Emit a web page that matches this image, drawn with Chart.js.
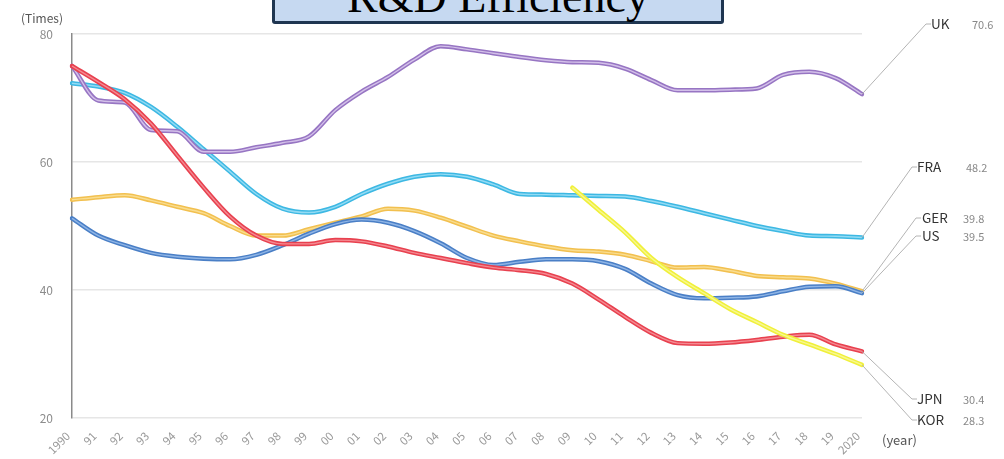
<!DOCTYPE html>
<html>
<head>
<meta charset="utf-8">
<script src="https://cdn.jsdelivr.net/npm/chart.js@4.4.1/dist/chart.umd.min.js"></script>
<style>
  html, body { margin:0; padding:0; background:#fff; overflow:hidden; }
  #wrap { position:relative; width:1004px; height:459px; overflow:hidden; background:#fff; }
  #c { position:absolute; left:0; top:0; }
  .title { position:absolute; left:272px; top:-36px; width:446px; height:54px;
           border:3px solid #1f3651; border-radius:3px; background:#c6d9f1; }
  .title span { position:absolute; left:0; top:7px; width:100%; text-align:center;
           font-family:"Liberation Serif","DejaVu Serif",serif; font-size:46px; line-height:46px; color:#000; white-space:nowrap; }
  .lab { position:absolute; transform:translateY(-50%); white-space:nowrap; line-height:1; }
  .nm { font-family:"Noto Sans CJK JP","Noto Sans",sans-serif; font-size:13.5px; color:#333; }
  .vl { font-family:"Noto Sans CJK JP","Noto Sans",sans-serif; font-size:11px; color:#888; }
  .ax { font-family:"Noto Sans CJK JP","Noto Sans",sans-serif; font-size:12px; color:#555; }
</style>
</head>
<body>
<div id="wrap">
  <canvas id="c" width="1004" height="459"></canvas>
  <div class="title"><span>R&amp;D Efficiency</span></div>
  <div class="lab ax" style="left:21px;top:18px;">(Times)</div>
  <div class="lab ax" style="left:882px;top:439px;font-size:13px;">(year)</div>
  <div id="labels"></div>
</div>
<script>
// ---- data ----
const years = [1990,1991,1992,1993,1994,1995,1996,1997,1998,1999,2000,2001,2002,2003,2004,2005,2006,2007,2008,2009,2010,2011,2012,2013,2014,2015,2016,2017,2018,2019,2020];
const tickLabels = ['1990','91','92','93','94','95','96','97','98','99','00','01','02','03','04','05','06','07','08','09','10','11','12','13','14','15','16','17','18','19','2020'];
const seriesNames = ['KOR','JPN','UK','US','GER','FRA'];
const UK  = [75.0,69.6,69.3,65.0,64.8,61.6,61.6,62.3,63.0,64.0,68.1,71.0,73.3,76.0,78.1,77.6,77.0,76.4,75.9,75.6,75.5,74.6,72.8,71.2,71.2,71.3,71.5,73.6,74.1,73.1,70.6];
const FRA = [72.3,71.8,70.8,68.6,65.5,62.0,58.5,55.0,52.7,52.1,53.0,55.0,56.6,57.7,58.1,57.7,56.5,55.0,54.9,54.8,54.7,54.6,53.9,53.0,52.0,51.0,50.0,49.2,48.5,48.4,48.2];
const GER = [54.1,54.5,54.8,54.0,53.0,52.0,50.0,48.5,48.5,49.5,50.5,51.5,52.7,52.4,51.3,49.9,48.5,47.6,46.8,46.2,46.0,45.5,44.5,43.5,43.6,43.0,42.2,42.0,41.8,41.0,39.8];
const US  = [51.2,48.5,47.0,45.8,45.2,44.9,44.8,45.5,47.0,48.8,50.3,51.0,50.5,49.2,47.3,45.0,43.9,44.4,44.8,44.8,44.5,43.3,41.0,39.2,38.7,38.8,39.0,39.8,40.5,40.6,39.5];
const JPN = [75.0,72.5,69.8,66.0,61.0,56.0,51.5,48.5,47.2,47.2,47.8,47.6,46.8,45.8,45.0,44.2,43.5,43.1,42.5,41.0,38.5,35.8,33.3,31.7,31.6,31.8,32.2,32.7,33.0,31.5,30.4];
const KOR = [null,null,null,null,null,null,null,null,null,null,null,null,null,null,null,null,null,null,null,56.0,52.5,49.0,45.0,42.0,39.5,37.0,35.0,33.0,31.5,30.0,28.3];
const endValues = {UK:'70.6', FRA:'48.2', GER:'39.8', US:'39.5', JPN:'30.4', KOR:'28.3'};
const yTicks = [20,40,60,80];

// ---- styles ----
const styles = {
  KOR:{c:'#f0f03a', i:'#f8f890'},
  JPN:{c:'#e8414f', i:'#f48a92'},
  UK: {c:'#9775c3', i:'#d3c0e9'},
  US: {c:'#4a7fc6', i:'#8fb5e6'},
  GER:{c:'#f2c04f', i:'#f9dd90'},
  FRA:{c:'#3db8e3', i:'#93dbf4'}
};
// label anchor positions (pixels) for the right-side callouts
const anchors = {
  UK: {x:926, y:24,  nx:931, vx:972},
  FRA:{x:912, y:167, nx:917, vx:966},
  GER:{x:916, y:218, nx:922, vx:963},
  US: {x:916, y:236, nx:922, vx:963},
  JPN:{x:912, y:399, nx:917, vx:963},
  KOR:{x:912, y:420, nx:917, vx:963}
};
const dataMap = {UK, FRA, GER, US, JPN, KOR};

const datasets = seriesNames.map(n => ({
  label:n, data:dataMap[n], borderColor:styles[n].c, backgroundColor:styles[n].c,
  innerColor:styles[n].i, borderWidth:4.5, pointRadius:0, fill:false,
  cubicInterpolationMode:'monotone', borderCapStyle:'round', borderJoinStyle:'round'
}));

const innerLine = {
  id:'innerLine',
  afterDatasetDraw(chart, args){
    const ds = chart.data.datasets[args.index];
    const el = args.meta.dataset;
    if(!ds.innerColor || !el || !el.path) return;
    const ctx = chart.ctx;
    ctx.save();
    ctx.beginPath();
    el.path(ctx);
    ctx.strokeStyle = ds.innerColor;
    ctx.lineWidth = 1.4;
    ctx.lineJoin = 'round';
    ctx.stroke();
    ctx.restore();
  }
};

const leaders = {
  id:'leaders',
  afterDatasetsDraw(chart){
    const ctx = chart.ctx, xs = chart.scales.x, ys = chart.scales.y;
    ctx.save();
    ctx.strokeStyle = '#b4b4b4';
    ctx.lineWidth = 1;
    seriesNames.forEach(n => {
      const d = dataMap[n];
      const last = d.length - 1;
      const px = xs.getPixelForValue(last);
      const py = ys.getPixelForValue(d[last]);
      const a = anchors[n];
      ctx.beginPath();
      ctx.moveTo(px, py);
      ctx.lineTo(a.x, a.y);
      ctx.lineTo(a.x + 5, a.y);
      ctx.stroke();
    });
    ctx.restore();
  }
};

// right-side text labels
const labelsDiv = document.getElementById('labels');
seriesNames.forEach(n => {
  const a = anchors[n];
  const s1 = document.createElement('div');
  s1.className = 'lab nm'; s1.style.left = a.nx + 'px'; s1.style.top = a.y + 'px'; s1.textContent = n;
  const s2 = document.createElement('div');
  s2.className = 'lab vl'; s2.style.left = a.vx + 'px'; s2.style.top = a.y + 'px'; s2.textContent = endValues[n];
  labelsDiv.appendChild(s1); labelsDiv.appendChild(s2);
});

Chart.defaults.font.family = "'Noto Sans CJK JP','Noto Sans',sans-serif";

new Chart(document.getElementById('c'), {
  type:'line',
  data:{ labels:tickLabels, datasets },
  options:{
    responsive:false, animation:false, devicePixelRatio:1,
    layout:{ padding:{ top:34, right:142, bottom:0, left:0 } },
    plugins:{ legend:{display:false}, tooltip:{enabled:false} },
    scales:{
      x:{
        type:'category', offset:false,
        grid:{display:false}, border:{display:false},
        ticks:{ autoSkip:false, maxRotation:45, minRotation:45, color:'#9a9a9a', font:{size:11.5}, padding:3, labelOffset:-4 },
        afterFit(s){ s.height = 41; s.paddingLeft = 0; s.paddingRight = 0; }
      },
      y:{
        min:20, max:80,
        afterBuildTicks(s){ s.ticks = yTicks.map(v => ({value:v})); },
        ticks:{ color:'#8c8c8c', font:{size:12}, padding:19 },
        grid:{ color:'#e6e6e6', lineWidth:1.5, drawTicks:false },
        border:{ display:true, color:'#8a8a8a', width:1.5 },
        afterFit(s){ s.width = 72; s.paddingTop = 0; s.paddingBottom = 0; }
      }
    }
  },
  plugins:[innerLine, leaders]
});
</script>
</body>
</html>
